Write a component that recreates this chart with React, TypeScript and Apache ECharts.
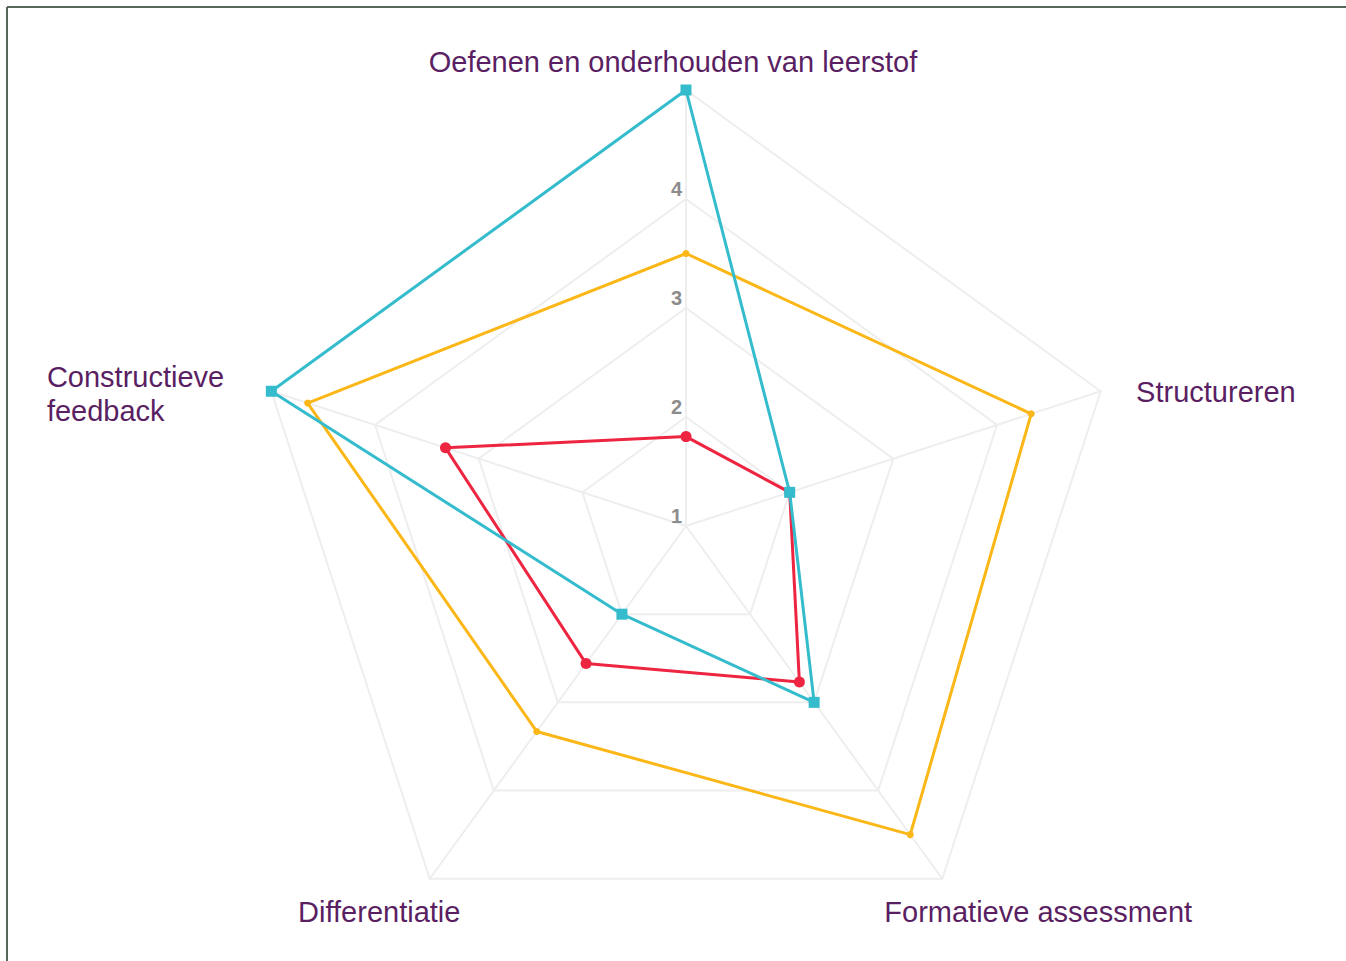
import React, { useEffect, useRef } from "react";
import * as echarts from "echarts";

const indicators = [
  "Oefenen en onderhouden van leerstof",
  "Structureren",
  "Formatieve assessment",
  "Differentiatie",
  "Constructieve\nfeedback",
];
// order: top, then clockwise
const cyanValues = [5, 2, 3, 2, 5];
const orangeValues = [3.5, 4.33, 4.5, 3.33, 4.65];
const redValues = [1.82, 2, 2.77, 2.56, 3.32];
const scaleMin = 1;
const scaleMax = 5;

const FONT = "Liberation Sans, Arial, sans-serif";
const NAME_COLOR = "#5a1f63";

// per-name text placement tweaks (layout only)
const nameStyles: any[] = [
  { padding: [0, 26, 0, 0] },
  { padding: [9, 0, 0, 25] },
  { align: "center", verticalAlign: "middle", padding: [48, 0, 0, 179] },
  { align: "center", verticalAlign: "middle", padding: [48, 88, 0, 0] },
  { padding: [13, 34, 0, 0] },
];

const labelStyle = {
  color: "#8c8c8c",
  fontSize: 20,
  fontWeight: "bold",
  fontFamily: FONT,
  margin: 4,
  verticalAlign: "bottom",
  showMaxLabel: false,
  formatter: (v: number) => (v === scaleMax ? "" : `{t|${v}}`),
  rich: {
    t: {
      color: "#8c8c8c",
      fontSize: 20,
      fontWeight: "bold",
      fontFamily: FONT,
      lineHeight: 20,
    },
  },
};

export default function App() {
  const ref = useRef<HTMLDivElement>(null);
  useEffect(() => {
    document.body.style.margin = "0";
    const chart = echarts.init(ref.current!, undefined, { renderer: "svg" });
    // ECharts radar indicators go counter-clockwise; reverse the non-top ones
    const order = [0, 4, 3, 2, 1];
    const ind = order.map((i, k) => ({
      name: indicators[i],
      min: scaleMin,
      max: scaleMax,
      nameTextStyle: { ...nameStyles[i] },
      ...(k === 0 ? { axisLabel: { ...labelStyle, show: true } } : {}),
    }));
    const reorder = (arr: number[]) => order.map((i) => arr[i]);
    chart.setOption({
      animation: false,
      backgroundColor: "#ffffff",
      radar: {
        center: [686, 526],
        radius: 436,
        startAngle: 90,
        splitNumber: 4,
        shape: "polygon",
        indicator: ind,
        axisName: {
          color: NAME_COLOR,
          fontSize: 29,
          fontFamily: FONT,
          lineHeight: 34,
          formatter: (name: string) =>
            name.indexOf("\n") >= 0
              ? name
                  .split("\n")
                  .map((l) => `{l|${l}}`)
                  .join("\n")
              : name,
          rich: {
            l: {
              width: 180,
              align: "left",
              color: NAME_COLOR,
              fontSize: 29,
              lineHeight: 34,
              fontFamily: FONT,
            },
          },
        },
        nameGap: 11,
        axisLabel: { ...labelStyle, show: false },
        axisTick: { show: false },
        axisLine: { lineStyle: { color: "#eeeeee", width: 2 } },
        splitLine: { lineStyle: { color: "#eeeeee", width: 2 } },
        splitArea: { show: false },
      },
      series: [
        {
          type: "radar",
          z: 3,
          data: [
            {
              name: "orange",
              value: reorder(orangeValues),
              symbol: "circle",
              symbolSize: 7,
              itemStyle: { color: "#fbb717" },
              lineStyle: { color: "#fbb717", width: 3 },
            },
            {
              name: "red",
              value: reorder(redValues),
              symbol: "circle",
              symbolSize: 11,
              itemStyle: { color: "#ee2541" },
              lineStyle: { color: "#ee2541", width: 3 },
            },
            {
              name: "cyan",
              value: reorder(cyanValues),
              symbol: "rect",
              symbolSize: 11,
              itemStyle: { color: "#34bccd" },
              lineStyle: { color: "#34bccd", width: 3 },
            },
          ],
        },
      ],
      graphic: [
        {
          type: "line",
          shape: { x1: 7, y1: 7, x2: 1346, y2: 7 },
          style: { stroke: "#56685a", lineWidth: 2 },
        },
        {
          type: "line",
          shape: { x1: 7, y1: 7, x2: 7, y2: 961 },
          style: { stroke: "#56685a", lineWidth: 2 },
        },
      ],
    });
    return () => chart.dispose();
  }, []);
  return <div ref={ref} style={{ width: 1346, height: 961 }} />;
}
